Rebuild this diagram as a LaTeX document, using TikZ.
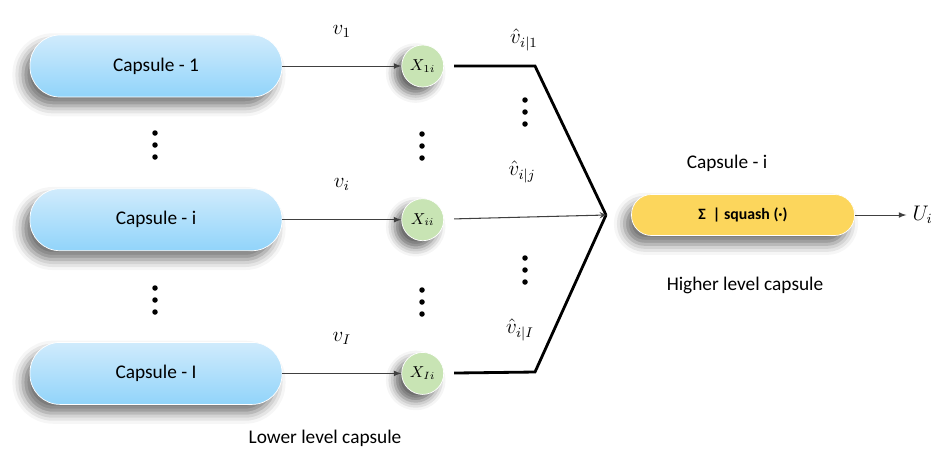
\documentclass[tikz,border=0pt]{standalone}
\usepackage{amsmath}
\usepackage{fontspec}
\setmainfont{Carlito}
\usetikzlibrary{positioning, arrows, shadows.blur}
\definecolor{capblue}{RGB}{145,212,250}
\definecolor{capbluelight}{RGB}{208,235,252}
\definecolor{capyellow}{RGB}{252,214,92}
\definecolor{wgreen}{RGB}{200,228,180}
\tikzstyle{lowcap} = [rectangle, rounded corners=0.6cm, minimum width=5.04cm, minimum height=1.24cm, text centered, draw=white, top color=capbluelight, bottom color=capblue, blur shadow={shadow xshift=-4pt, shadow yshift=-5pt, shadow blur radius=6pt, shadow opacity=55}, font=\fontsize{11}{13}\selectfont]
\tikzstyle{highcap} = [rectangle, rounded corners=0.4cm, minimum width=4.46cm, minimum height=0.82cm, text centered, draw=white, fill=capyellow, blur shadow={shadow xshift=-4pt, shadow yshift=-5pt, shadow blur radius=6pt, shadow opacity=55}, font=\fontsize{9}{11}\selectfont\bfseries]
\tikzstyle{weight} = [circle, minimum size=0.84cm, inner sep=0pt, draw=white, fill=wgreen, blur shadow={shadow xshift=-4pt, shadow yshift=-4pt, shadow blur radius=5pt, shadow opacity=60}, font=\small]
\tikzstyle{dots} = [rectangle, minimum width=0.14cm, minimum height=0.62cm, inner sep=0pt, path picture={\foreach \k in {-1,0,1} \fill (path picture bounding box.center) ++(0,\k*0.24) circle (0.055cm);}]
\tikzstyle{arrow} = [draw=black!75, line width=0.5pt, ->, >=latex]
\tikzstyle{route} = [line width=1.6pt, line join=miter]
\tikzstyle{caption} = [font=\fontsize{11}{13}\selectfont]
\tikzstyle{mathlabel} = [font=\large]

\begin{document}
\begin{tikzpicture}[node distance=1.82cm]
        \useasboundingbox (0,0) rectangle (18.82,-9.02);
        \node (cap1) [lowcap] at (3.12,-1.32) {Capsule - 1};
        \node (capi) [lowcap, below=of cap1] {Capsule - i};
        \node (capI) [lowcap, below=of capi] {Capsule - I};
        \node (x1) [weight, right=2.38cm of cap1] {$X_{1i}$};
        \node (xi) [weight, right=2.38cm of capi] {$X_{ii}$};
        \node (xI) [weight, right=2.38cm of capI] {$X_{Ii}$};
        \node (dotsa) [dots] at (3.1,-2.9) {};
        \node (dotsb) [dots] at (3.1,-6.0) {};
        \node (dotsc) [dots] at (8.44,-2.92) {};
        \node (dotsd) [dots] at (8.44,-6.04) {};
        \node (dotse) [dots] at (10.5,-2.24) {};
        \node (dotsf) [dots] at (10.5,-5.4) {};
        \coordinate (bend1) at (10.7,-1.32);
        \coordinate (bendI) at (10.7,-7.44);
        \coordinate (merge) at (12.12,-4.3);
        \node (vhat1) [mathlabel] at (10.48,-0.8) {$\hat{v}_{i|1}$};
        \node (vhatj) [mathlabel] at (10.44,-3.44) {$\hat{v}_{i|j}$};
        \node (vhatI) [mathlabel] at (10.4,-6.6) {$\hat{v}_{i|I}$};
        \node (high) [highcap] at (14.86,-4.3) {Σ~~| squash (·)};
        \node (highname) [caption] at (14.54,-3.26) {Capsule - i};
        \node (highlabel) [caption] at (14.9,-5.7) {Higher level capsule};
        \node (lowlabel) [caption] at (6.5,-8.76) {Lower level capsule};
        \node (out) [mathlabel] at (18.45,-4.3) {$U_i$};

        \draw [arrow] (cap1) -- node[mathlabel, above=0.45cm]{$v_1$} (x1);
        \draw [arrow] (capi) -- node[mathlabel, above=0.45cm]{$v_i$} (xi);
        \draw [arrow] (capI) -- node[mathlabel, above=0.45cm]{$v_I$} (xI);
        \draw [route, shorten <=0.2cm] (x1) -- (bend1) -- (merge);
        \draw [route, shorten <=0.2cm] (xI) -- (bendI) -- (merge);
        \draw [arrow, shorten <=0.2cm, >=stealth, line width=0.6pt] (xi) -- (merge);
        \draw [arrow] (high) -- (out);

        \end{tikzpicture}
\end{document}
